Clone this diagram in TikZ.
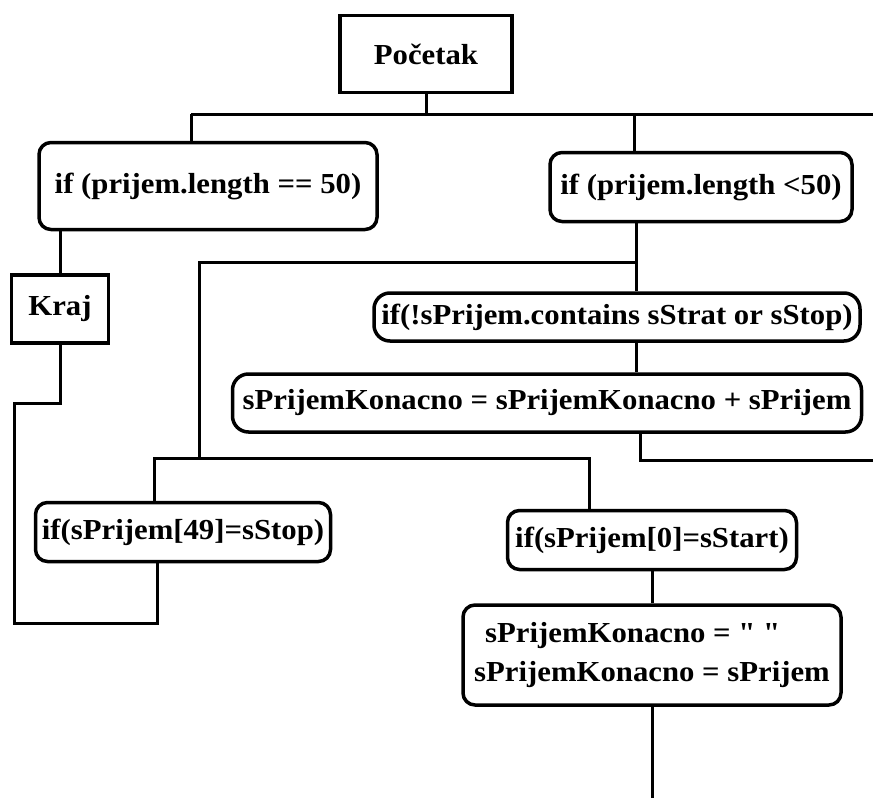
\documentclass[tikz,border=0pt]{standalone}
\usepackage{fontspec}
\setmainfont[FakeStretch=1.06]{Liberation Serif}
\newfontfamily\ravni[FakeStretch=1.06]{Liberation Serif}
\newcommand{\navod}{{\ravni\bfseries"}}
\usepackage{tikz}
\usetikzlibrary{positioning}

\begin{document}
\begin{tikzpicture}[
    x=1pt, y=-1pt,
    every node/.style={font=\fontsize{29}{39}\selectfont\bfseries, inner sep=0pt},
    korak/.style={draw, line width=3.5pt},
    uslov/.style={draw, line width=3.5pt, rounded corners=12pt},
    blok/.style={draw, line width=3.5pt, rounded corners=16pt},
    veza/.style={line width=3pt}
]
\useasboundingbox (0,0) rectangle (873,798);

% cvorovi
\node[korak, minimum width=172pt, minimum height=77pt] (pocetak) at (426,54) {Početak};
\node[uslov, minimum width=338pt, minimum height=87pt] (jednako) at (208,186) {if (prijem.length == 50)};
\node[uslov, minimum width=302pt, minimum height=69pt] (manje) at (701,187) {if (prijem.length <50)};
\node[korak, minimum width=97pt, minimum height=68pt] (kraj) at (60,309) {Kraj};
\node[blok, minimum width=486pt, minimum height=48pt] (sadrzi) at (617,317) {if(!sPrijem.contains sStrat or sStop)};
\node[blok, minimum width=629pt, minimum height=58pt] (dodaj) at (547,403) {sPrijemKonacno = sPrijemKonacno + sPrijem};
\node[uslov, minimum width=295pt, minimum height=59pt] (stop) at (183,532) {if(sPrijem[49]=sStop)};
\node[uslov, minimum width=289pt, minimum height=59pt] (start) at (652,540) {if(sPrijem[0]=sStart)};
\node[uslov, minimum width=378pt, minimum height=100pt, align=left] (reset) at (652,655)
    {\hspace{11pt}sPrijemKonacno = \navod\ \navod\\sPrijemKonacno = sPrijem};

% tacke spajanja
\coordinate (grana1L) at (191,114);
\coordinate (grana1D) at (873,114);
\coordinate (grana1M) at (634,114);
\coordinate (grana2) at (636,262);
\coordinate (grana2L) at (199,262);
\coordinate (grana3L) at (154,458);
\coordinate (grana3D) at (589,458);
\coordinate (izlaz) at (640,460);
\coordinate (izlazD) at (873,460);
\coordinate (petljaG) at (14,403);
\coordinate (petljaD) at (14,623);
\coordinate (petljaK) at (157,623);
\coordinate (dno) at (0,798);

% veze
\draw[veza] (pocetak.south) -- (pocetak.south |- grana1L);
\draw[veza] (grana1L) -- (grana1D);
\draw[veza] (grana1L) -- (grana1L |- jednako.north);
\draw[veza] (grana1M) -- (grana1M |- manje.north);
\draw[veza] (kraj.north) -- (kraj.north |- jednako.south);
\draw[veza] (grana2 |- manje.south) -- (grana2) -- (grana2L) -- (grana2L |- grana3L);
\draw[veza] (grana2) -- (grana2 |- sadrzi.north);
\draw[veza] (grana2 |- sadrzi.south) -- (grana2 |- dodaj.north);
\draw[veza] (izlaz |- dodaj.south) -- (izlaz) -- (izlazD);
\draw[veza] (grana3L |- stop.north) -- (grana3L) -- (grana3D) -- (grana3D |- start.north);
\draw[veza] (kraj.south) |- (petljaG) -- (petljaD) -- (petljaK) -- (petljaK |- stop.south);
\draw[veza] (start.south) -- (reset.north);
\draw[veza] (reset.south) -- (reset.south |- dno);
\end{tikzpicture}
\end{document}
